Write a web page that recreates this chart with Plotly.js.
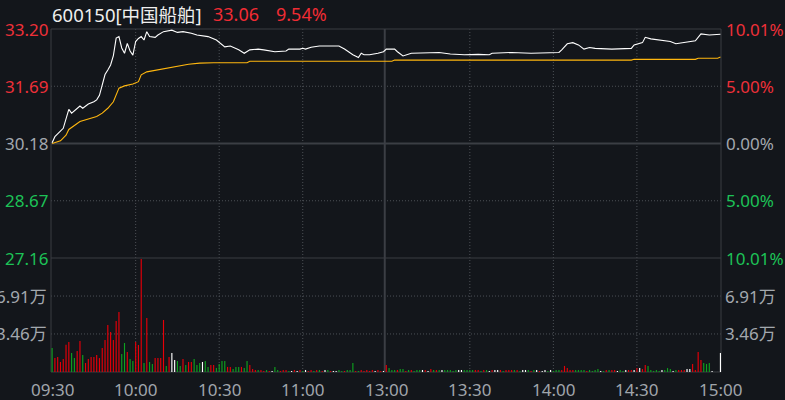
<!DOCTYPE html>
<html><head><meta charset="utf-8">
<script src="https://cdn.plot.ly/plotly-3.0.1.min.js"></script>
<style>html,body{margin:0;padding:0;background:#13161b;} #chart{width:785px;height:400px;}</style>
</head><body><div id="chart"></div>
<script>
// ---------- data ----------
const stockTitle = '600150[中国船舶]';
const lastPrice = '33.06';
const lastPct = '9.54%';
const prevClose = 30.18;

// price line (minute index from 09:30, 0..240) and price
const priceMin = [0,1,4,5,6,7,10,11,13,15,16,17,18,19,20,21,22,23,24,25,26,27,28,29,30,31,32,33,34,35,37,38,40,43,45,47,50,52,56,59,62,64,67,69,71,74,76,80,84,85,89,90,91,93,96,103,105,107,108,110,111,112,114,117,119,120,123,124,126,129,132,136,139,143,148,153,157,158,165,172,180,182,183,185,187,189,191,193,195,201,208,209,212,213,215,220,222,224,227,231,233,236,240];
const priceVal = [30.20,30.36,30.58,30.80,31.08,30.98,31.17,31.11,31.22,31.28,31.33,31.45,31.70,32.00,32.12,32.25,32.50,32.96,33.00,32.70,32.56,32.82,32.62,32.51,32.87,32.95,33.00,32.91,33.13,33.00,32.98,33.04,33.13,33.17,33.11,33.13,33.09,33.04,33.00,32.91,32.73,32.75,32.65,32.56,32.65,32.67,32.65,32.60,32.62,32.67,32.67,32.69,32.67,32.72,32.75,32.75,32.67,32.56,32.52,32.45,32.56,32.52,32.52,32.56,32.60,32.67,32.67,32.60,32.49,32.56,32.56,32.58,32.58,32.54,32.52,32.53,32.52,32.56,32.58,32.56,32.56,32.58,32.65,32.81,32.84,32.78,32.67,32.71,32.69,32.67,32.69,32.78,32.84,32.98,32.94,32.89,32.87,32.81,32.85,32.89,33.07,33.04,33.06];

// average price line
const avgMin = [0,3,5,6,10,14,16,18,20,22,23,24,26,29,31,32,34,39,44,49,53,58,70,71,122,123,208,209,231,232,239,240];
const avgVal = [30.18,30.25,30.40,30.55,30.76,30.84,30.89,30.98,31.11,31.28,31.46,31.64,31.70,31.75,31.81,31.99,32.07,32.14,32.21,32.27,32.30,32.31,32.31,32.35,32.35,32.38,32.38,32.40,32.40,32.43,32.43,32.46];

// volume per minute (万), minutes 0..240
const volume = [
2.19,1.27,1.37,0.91,1.18,2.49,2.73,1.73,1.27,1.91,
2.82,1.55,0.82,1.18,1.37,1.37,1.55,1.27,2.19,2.91,
4.28,3.64,2.91,4.64,5.46,1.64,2.64,1.82,1.18,1.00,
2.73,2.46,10.29,0.82,4.92,0.91,0.73,1.27,1.27,1.27,
4.73,0.55,1.37,1.73,1.09,1.00,0.55,1.18,0.64,0.91,
0.91,1.18,0.64,0.82,0.91,1.00,0.46,0.64,0.64,0.36,
0.73,1.00,1.00,0.46,0.46,0.27,0.46,0.46,0.46,0.36,
1.00,0.64,0.27,0.18,0.18,0.18,0.09,0.18,0.09,0.09,
0.46,0.18,0.09,0.18,0.18,0.09,0.09,0.18,0.09,0.18,
0.09,0.18,0.09,0.18,0.09,0.18,0.18,0.09,0.18,0.18,
0.09,0.09,0.09,0.18,0.09,0.09,0.18,0.18,0.82,0.09,
0.09,0.18,0.09,0.18,0.09,0.18,0.09,0.18,0.09,0.09,
0.64,0.36,0.18,0.18,0.18,0.27,0.27,0.09,0.18,0.18,
0.09,0.18,0.18,0.18,0.18,0.09,0.27,0.18,0.18,0.18,
0.18,0.18,0.18,0.18,0.09,0.18,0.18,0.18,0.18,0.18,
0.18,0.18,0.18,0.18,0.09,0.18,0.18,0.09,0.18,0.18,
0.18,0.18,0.09,0.18,0.18,0.18,0.18,0.18,0.09,0.18,
0.18,0.18,0.09,0.18,0.18,0.09,0.09,0.18,0.09,0.18,
0.09,0.18,0.18,0.18,0.55,0.36,0.18,0.18,0.18,0.18,
0.18,0.18,0.09,0.18,0.09,0.18,0.27,0.09,0.09,0.18,
0.18,0.18,0.18,0.09,0.18,0.09,0.18,0.18,0.18,0.18,
0.36,0.36,0.27,0.64,0.55,0.18,0.09,0.18,0.09,0.18,
0.18,0.36,0.27,0.09,0.18,0.18,0.18,0.18,0.27,0.27,
0.73,0.18,1.82,1.09,0.82,0.73,0.82,0.09,0,0,
1.73];
// direction of each minute bar: r = up, g = down, w = flat
const volumeDir =
"grrrrrrggr"+"rgrrrrrrrr"+"rrrrrggrgg"+"rrrgrggrrr"+"rgrwwggrgr"+
"rgggwggrrg"+"gggrrgggrg"+"grrrgrrgrw"+"ggrrrgwrwr"+"gwrrgrgrwg"+
"rwwggrgggr"+"grrrrrwrrw"+"rgggrggrgr"+"gggwrwrgrg"+"wgggggwwgg"+
"ggrrgrgwrw"+"wrgrrrgrgw"+"wgrgwrwwgw"+"gggrrrrrgg"+"ggrggggwgr"+
"grrwggwrrw"+"rwrrgggggw"+"gggwgrrrww"+"rrrrgggwww"+"w";

// axis labels
const priceTickVals = [33.20,31.69,30.18,28.67,27.16];
const priceTickText = ['33.20','31.69','30.18','28.67','27.16'];
const pctTickText = ['10.01%','5.00%','0.00%','5.00%','10.01%'];
const tickDir = ['r','r','w','g','g'];
const volTickVals = [6.91,3.46];
const volTickText = ['6.91万','3.46万'];
const timeTickVals = [0,30,60,90,120,150,180,210,240];
const timeTickText = ['09:30','10:00','10:30','11:00','13:00','13:30','14:00','14:30','15:00'];

// ---------- styling ----------
const barColors = {r:'#e8000a', g:'#10a322', w:'#ffffff'};
const textColors = {r:'#ee3039', g:'#1dc257', w:'#a3a8ae'};
const FONT = '"Noto Sans","Noto Sans CJK SC",sans-serif';
const FS = 17;
const grid = '#4c5056';
const solid = '#3b3e44';

const minutes = volume.map((_, i) => i);
const barCol = volume.map((_, i) => barColors[volumeDir[i]]);
const traces = [
  {x: minutes, y: volume, type:'bar', xaxis:'x', yaxis:'y2', width:0.4,
   marker:{color: barCol, line:{width:0.05, color: barCol}}, hoverinfo:'skip'},
  {x: avgMin, y: avgVal, type:'scatter', mode:'lines', xaxis:'x', yaxis:'y',
   line:{color:'#ffb70f', width:1.1}, hoverinfo:'skip'},
  {x: priceMin, y: priceVal, type:'scatter', mode:'lines', xaxis:'x', yaxis:'y',
   line:{color:'#ffffff', width:1.1}, hoverinfo:'skip'}
];

const split = 114/343;
const shapes = [];
// dotted vertical grid
[30,60,90,150,180,210].forEach(v => shapes.push({type:'line', xref:'x', yref:'paper', x0:v, x1:v, y0:0, y1:1, layer:'below', line:{color:grid, width:1, dash:'1px,2px'}}));
// dotted horizontal grid
[31.69,28.67].forEach(v => shapes.push({type:'line', xref:'paper', yref:'y', x0:0, x1:1, y0:v, y1:v, layer:'below', line:{color:grid, width:1, dash:'1px,2px'}}));
volTickVals.forEach(v => shapes.push({type:'line', xref:'paper', yref:'y2', x0:0, x1:1, y0:v, y1:v, layer:'below', line:{color:grid, width:1, dash:'1px,2px'}}));
// solid lines
shapes.push({type:'line', xref:'paper', yref:'y', x0:0, x1:1, y0:prevClose, y1:prevClose, layer:'below', line:{color:solid, width:2}});
shapes.push({type:'line', xref:'x', yref:'paper', x0:119.45, x1:119.45, y0:0, y1:1, layer:'below', line:{color:solid, width:2}});
shapes.push({type:'line', xref:'paper', yref:'paper', x0:0, x1:1, y0:split, y1:split, layer:'below', line:{color:'#3a3d43', width:1}});
shapes.push({type:'rect', xref:'paper', yref:'paper', x0:0, x1:1, y0:0, y1:1, layer:'below', line:{color:'#3a3d43', width:1}});

const annotations = [];
const ann = (o) => annotations.push(Object.assign({showarrow:false, borderpad:0}, o));
priceTickVals.forEach((v, i) => {
  ann({xref:'paper', yref:'y', x:0, y:v, xanchor:'right', yanchor:'middle', xshift:-2,
       text:priceTickText[i], font:{family:FONT, size:FS, color:textColors[tickDir[i]]}});
  ann({xref:'paper', yref:'y', x:1, y:v, xanchor:'left', yanchor:'middle', xshift:4,
       text:pctTickText[i], font:{family:FONT, size:FS, color:textColors[tickDir[i]]}});
});
volTickVals.forEach((v, i) => {
  ann({xref:'paper', yref:'y2', x:0, y:v, xanchor:'right', yanchor:'middle', xshift:-3,
       text:volTickText[i], font:{family:FONT, size:FS, color:textColors.w}});
  ann({xref:'paper', yref:'y2', x:1, y:v, xanchor:'left', yanchor:'middle', xshift:3,
       text:volTickText[i], font:{family:FONT, size:FS, color:textColors.w}});
});
timeTickVals.forEach((v, i) => {
  ann({xref:'x', yref:'paper', x:v, y:0, xanchor:'center', yanchor:'middle', yshift:-17,
       text:timeTickText[i], font:{family:FONT, size:FS, color:'#a0a5ab'}});
});
ann({xref:'paper', yref:'paper', x:0, y:1, xanchor:'left', yanchor:'middle', yshift:15, xshift:0,
     text:stockTitle, font:{family:FONT, size:18.5, color:'#eeeeee'}});
ann({xref:'paper', yref:'paper', x:(212-51)/670, y:1, xanchor:'left', yanchor:'middle', yshift:15,
     text:lastPrice, font:{family:FONT, size:18, color:'#f02c34'}});
ann({xref:'paper', yref:'paper', x:(275-51)/670, y:1, xanchor:'left', yanchor:'middle', yshift:15,
     text:lastPct, font:{family:FONT, size:18, color:'#f02c34'}});

const layout = {
  width:785, height:400,
  margin:{l:51, r:64, t:29, b:28, pad:0},
  paper_bgcolor:'#13161b', plot_bgcolor:'#13161b',
  showlegend:false, bargap:0, bargroupgap:0,
  xaxis:{range:[-0.4,240.2], visible:false, anchor:'y2', fixedrange:true},
  yaxis:{domain:[split,1], range:[27.16,33.20], visible:false, fixedrange:true},
  yaxis2:{domain:[0,split], range:[0,10.37], visible:false, fixedrange:true},
  shapes: shapes,
  annotations: annotations
};
Plotly.newPlot('chart', traces, layout, {staticPlot:true, displayModeBar:false});
</script></body></html>
